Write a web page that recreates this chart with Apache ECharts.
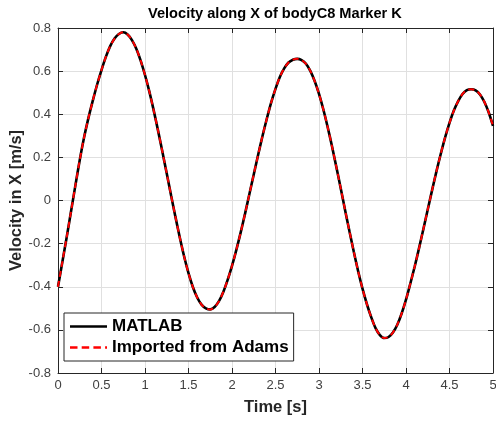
<!DOCTYPE html>
<html>
<head>
<meta charset="utf-8">
<title>Velocity along X of bodyC8 Marker K</title>
<script src="https://cdn.jsdelivr.net/npm/echarts@6/dist/echarts.min.js"></script>
<style>
  html, body { margin: 0; padding: 0; background: #fff; }
  #chart { width: 496px; height: 423px; }
</style>
</head>
<body>
<div id="chart"></div>
<script>
// time samples [s]
const timeS = [
  0.00, 0.05, 0.10, 0.15, 0.20, 0.25, 0.30, 0.35, 0.40, 0.45,
  0.50, 0.55, 0.60, 0.65, 0.70, 0.75, 0.80, 0.85, 0.90, 0.95,
  1.00, 1.05, 1.10, 1.15, 1.20, 1.25, 1.30, 1.35, 1.40, 1.45,
  1.50, 1.55, 1.60, 1.65, 1.70, 1.75, 1.80, 1.85, 1.90, 1.95,
  2.00, 2.05, 2.10, 2.15, 2.20, 2.25, 2.30, 2.35, 2.40, 2.45,
  2.50, 2.55, 2.60, 2.65, 2.70, 2.75, 2.80, 2.85, 2.90, 2.95,
  3.00, 3.05, 3.10, 3.15, 3.20, 3.25, 3.30, 3.35, 3.40, 3.45,
  3.50, 3.55, 3.60, 3.65, 3.70, 3.75, 3.80, 3.85, 3.90, 3.95,
  4.00, 4.05, 4.10, 4.15, 4.20, 4.25, 4.30, 4.35, 4.40, 4.45,
  4.50, 4.55, 4.60, 4.65, 4.70, 4.75, 4.80, 4.85, 4.90, 4.95,
  5.00
]
// velocity in X [m/s], MATLAB result
const velMatlab = [
  -0.400, -0.285, -0.170, -0.050, 0.070, 0.188, 0.293, 0.383, 0.463, 0.538,
  0.605, 0.666, 0.716, 0.751, 0.772, 0.780, 0.770, 0.744, 0.704, 0.649,
  0.582, 0.505, 0.418, 0.324, 0.226, 0.125, 0.023, -0.076, -0.172, -0.260,
  -0.337, -0.401, -0.450, -0.483, -0.500, -0.505, -0.494, -0.467, -0.424, -0.368,
  -0.303, -0.229, -0.148, -0.061, 0.030, 0.121, 0.211, 0.298, 0.379, 0.454,
  0.518, 0.573, 0.613, 0.640, 0.653, 0.657, 0.651, 0.634, 0.601, 0.554,
  0.494, 0.422, 0.340, 0.250, 0.154, 0.056, -0.045, -0.143, -0.238, -0.328,
  -0.409, -0.480, -0.541, -0.592, -0.624, -0.638, -0.633, -0.612, -0.576, -0.524,
  -0.460, -0.385, -0.306, -0.221, -0.132, -0.042, 0.048, 0.135, 0.217, 0.293,
  0.360, 0.417, 0.461, 0.494, 0.512, 0.516, 0.511, 0.492, 0.458, 0.409,
  0.346
]
// velocity in X [m/s], imported from Adams (lies on the MATLAB curve)
const velAdams = velMatlab.slice()

const xTicks = [0, 0.5, 1, 1.5, 2, 2.5, 3, 3.5, 4, 4.5, 5]
const yTicks = [-0.8, -0.6, -0.4, -0.2, 0, 0.2, 0.4, 0.6, 0.8]

const font = '"Liberation Sans", Arial, Helvetica, sans-serif'
const axisColor = '#262626'

const zipPts = (xs, ys) => xs.map((x, i) => [x, ys[i]])

const chart = echarts.init(document.getElementById('chart'))

const baseX = {
  type: 'value',
  min: xTicks[0],
  max: xTicks[xTicks.length - 1],
  interval: 0.5,
  axisLine: { show: true, onZero: false, lineStyle: { color: axisColor, width: 1 } },
  axisTick: { show: true, inside: true, length: 5, lineStyle: { color: axisColor } }
}
const baseY = {
  type: 'value',
  min: yTicks[0],
  max: yTicks[yTicks.length - 1],
  interval: 0.2,
  axisLine: { show: true, onZero: false, lineStyle: { color: axisColor, width: 1 } },
  axisTick: { show: true, inside: true, length: 5, lineStyle: { color: axisColor } }
}

const option = {
  animation: false,
  backgroundColor: '#fff',
  textStyle: { fontFamily: font },
  title: {
    text: 'Velocity along X of bodyC8 Marker K',
    left: 148,
    top: 6,
    padding: 0,
    textStyle: { fontFamily: font, fontSize: 14.6, fontWeight: 'bold', color: '#000' }
  },
  grid: { left: 58, right: 3, top: 28, bottom: 50, containLabel: false, outerBoundsMode: 'none' },
  legend: {
    orient: 'vertical',
    left: 64,
    top: 313,
    padding: [4, 5, 4, 6],
    itemGap: 2,
    itemWidth: 37,
    itemHeight: 2.5,
    symbolKeepAspect: false,
    borderColor: axisColor,
    borderWidth: 1,
    backgroundColor: '#fff',
    textStyle: { fontFamily: font, fontSize: 17, fontWeight: 'bold', color: '#000', lineHeight: 19 },
    data: [
      { name: 'MATLAB', icon: 'path://M0,0h37v2h-37z', itemStyle: { color: '#000' } },
      {
        name: 'Imported from Adams',
        icon: 'path://M0,0h7.5v2h-7.5z M11.7,0h7.5v2h-7.5z M23.4,0h7.5v2h-7.5z M35.1,0h1.9v2h-1.9z',
        itemStyle: { color: '#ff0000' }
      }
    ]
  },
  xAxis: [
    Object.assign({}, baseX, {
      position: 'bottom',
      name: 'Time [s]',
      nameLocation: 'middle',
      nameGap: 26,
      nameMoveOverlap: false,
      nameTextStyle: { fontFamily: font, fontSize: 16.5, fontWeight: 'bold', color: axisColor },
      axisLabel: { show: true, margin: 6, color: '#404040', fontSize: 13, fontFamily: font },
      splitLine: { show: true, lineStyle: { color: '#e0e0e0', width: 1 } }
    }),
    Object.assign({}, baseX, {
      position: 'top',
      axisLabel: { show: false },
      splitLine: { show: false }
    })
  ],
  yAxis: [
    Object.assign({}, baseY, {
      position: 'left',
      name: 'Velocity in X [m/s]',
      nameLocation: 'middle',
      nameGap: 33,
      nameMoveOverlap: false,
      nameTextStyle: { fontFamily: font, fontSize: 16.5, fontWeight: 'bold', color: axisColor },
      axisLabel: { show: true, margin: 7, color: '#404040', fontSize: 13, fontFamily: font },
      splitLine: { show: true, lineStyle: { color: '#e0e0e0', width: 1 } }
    }),
    Object.assign({}, baseY, {
      position: 'right',
      axisLabel: { show: false },
      splitLine: { show: false }
    })
  ],
  series: [
    {
      name: 'MATLAB',
      type: 'line',
      data: zipPts(timeS, velMatlab),
      showSymbol: false,
      symbol: 'none',
      smooth: 0.3,
      lineStyle: { color: '#000', width: 2.6 },
      itemStyle: { color: '#000' },
      z: 3
    },
    {
      name: 'Imported from Adams',
      type: 'line',
      data: zipPts(timeS, velAdams),
      showSymbol: false,
      symbol: 'none',
      smooth: 0.3,
      lineStyle: { color: '#ff0000', width: 2, type: [6, 4] },
      itemStyle: { color: '#ff0000' },
      z: 4
    }
  ]
}

chart.setOption(option)
</script>
</body>
</html>
